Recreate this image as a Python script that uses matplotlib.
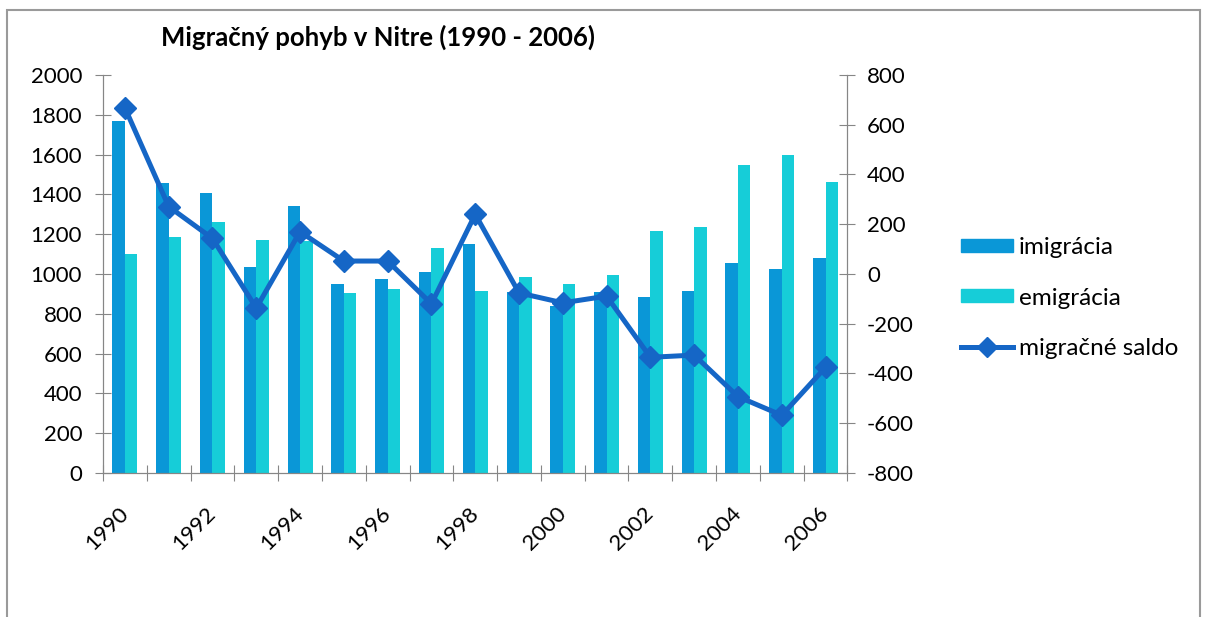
"""Migracny pohyb v Nitre 1990-2006: bars on left axis, saldo line on right axis."""

import matplotlib

matplotlib.use("Agg")
import matplotlib.pyplot as plt
import numpy as np
from matplotlib.patches import Rectangle
from matplotlib.lines import Line2D

years = [1990, 1991, 1992, 1993, 1994, 1995, 1996, 1997, 1998,
         1999, 2000, 2001, 2002, 2003, 2004, 2005, 2006]
imigracia = [1770, 1455, 1405, 1035, 1340, 952, 977, 1010, 1152,
             907, 838, 907, 882, 915, 1055, 1024, 1082]
emigracia = [1100, 1185, 1262, 1170, 1168, 902, 927, 1132, 913,
             985, 952, 997, 1216, 1236, 1550, 1596, 1462]
saldo = [668, 271, 143, -137, 170, 52, 52, -120, 240,
         -76, -116, -89, -335, -326, -493, -568, -375]

left_ticks = list(range(0, 2001, 200))
right_ticks = list(range(-800, 801, 200))

C_IMI = "#0A97D7"
C_EMI = "#16CDD8"
C_LINE = "#1566C6"
C_AXIS = "#868686"

plt.rcParams["font.family"] = ["Lato", "DejaVu Sans"]
plt.rcParams["axes.unicode_minus"] = False

fig = plt.figure(figsize=(12.06, 6.17), dpi=100)
ax = fig.add_axes([0.0854, 0.2334, 0.6173, 0.6451])
ax2 = ax.twinx()

x = np.arange(len(years))
w = 1 / 3.5
ax.bar(x - w / 2, imigracia, w, color=C_IMI, label="imigrácia", zorder=2)
ax.bar(x + w / 2, emigracia, w, color=C_EMI, label="emigrácia", zorder=2)
ax2.plot(x, saldo, color=C_LINE, lw=3.6, marker="D", ms=11,
         label="migračné saldo", zorder=3)

ax.set_xlim(-0.5, len(years) - 0.5)
ax.set_ylim(0, 2000)
ax2.set_ylim(-800, 800)
ax.set_yticks(left_ticks)
ax2.set_yticks(right_ticks)

# category boundaries carry the tick marks, even years carry the labels
ax.set_xticks(np.arange(len(years) + 1) - 0.5)
ax.set_xticklabels([])
even = [i for i, y in enumerate(years) if y % 2 == 0]
ax.set_xticks(even, minor=True)
ax.set_xticklabels([str(years[i]) for i in even], minor=True,
                   rotation=45, ha="right", va="center",
                   rotation_mode="anchor", fontsize=16)
ax.tick_params(axis="x", which="minor", length=0, pad=27)

for a in (ax, ax2):
    for s in a.spines.values():
        s.set_color(C_AXIS)
    a.spines["top"].set_visible(False)
    a.tick_params(which="major", direction="inout", length=12,
                  color=C_AXIS, labelsize=16)
ax.tick_params(axis="y", pad=9)
ax2.tick_params(axis="y", pad=8)

fig.text(378 / 1206, 0.94, "Migračný pohyb v Nitre (1990 - 2006)",
         fontsize=18.5, fontweight="bold", ha="center", va="center")

handles = [
    Rectangle((0, 0), 1, 1, color=C_IMI),
    Rectangle((0, 0), 1, 1, color=C_EMI),
    Line2D([], [], color=C_LINE, lw=3.6, marker="D", ms=10),
]
fig.legend(handles, ["imigrácia", "emigrácia", "migračné saldo"],
           loc="center left", bbox_to_anchor=(0.797, 0.517),
           frameon=False, fontsize=17.5, borderpad=0, borderaxespad=0,
           handlelength=2.14, handleheight=0.45, handletextpad=0.22,
           labelspacing=1.2)

# outer chart frame (bottom edge falls outside the picture)
fig.add_artist(Rectangle((0.006, -0.1), 0.989, 1.0838, transform=fig.transFigure,
                         fill=False, edgecolor="#9a9a9a", lw=1.5))

fig.savefig("out.png", dpi=100, facecolor="white")
